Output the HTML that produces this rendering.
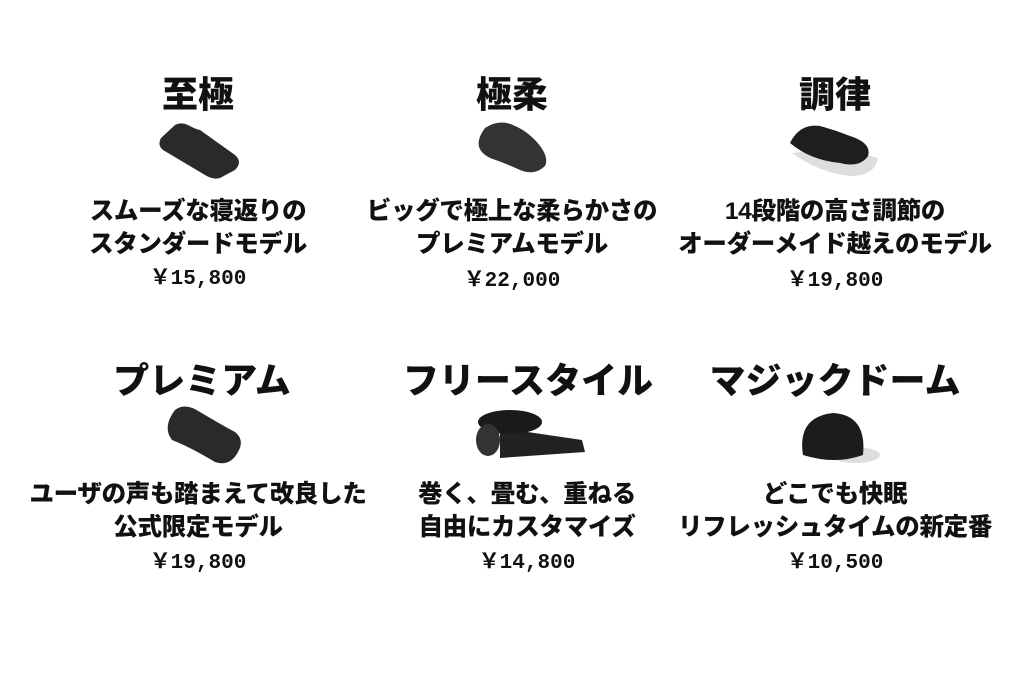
<!DOCTYPE html>
<html><head><meta charset="utf-8"><style>
body{margin:0;width:1024px;height:683px;background:#fff;position:relative;overflow:hidden;font-family:"Liberation Sans","Noto Sans CJK JP",sans-serif;font-weight:bold;color:#111}
.t{position:absolute;width:400px;text-align:center;white-space:nowrap}
.h{font-size:36px;line-height:40px;font-weight:900}
.d{font-size:24.5px;line-height:33px;font-weight:900;letter-spacing:-0.3px}
.p{font-size:21px;line-height:26px;font-family:"Liberation Mono","Noto Sans CJK JP",monospace}
svg{position:absolute}
</style></head><body>
<div class="t h" style="left:-2px;top:75px">至極</div>
<div class="t h" style="left:312px;top:75px">極柔</div>
<div class="t h" style="left:635px;top:75px">調律</div>
<svg style="left:155px;top:120px" width="90" height="60"><path d="M20 5 C30 0 35 8 45 10 L80 35 Q88 42 80 50 L65 58 Q58 60 50 55 L8 30 Q2 25 6 18 Z" fill="#2a2a2a"/></svg>
<svg style="left:470px;top:118px" width="90" height="60"><path d="M15 10 Q30 0 45 8 Q55 12 65 22 Q80 38 75 48 Q65 58 50 52 Q35 45 20 40 Q0 30 15 10 Z" fill="#333"/></svg>
<svg style="left:780px;top:118px" width="110" height="60"><path d="M12 35 Q40 55 70 58 Q95 58 98 40 L60 30 Z" fill="#ddd"/><path d="M10 25 Q20 5 40 8 Q55 12 70 18 Q92 25 88 38 Q80 50 60 45 Q30 42 10 25 Z" fill="#1e1e1e"/></svg>
<div class="t d" style="left:-2px;top:195px">スムーズな寝返りの<br>スタンダードモデル</div>
<div class="t d" style="left:312px;top:195px">ビッグで極上な柔らかさの<br>プレミアムモデル</div>
<div class="t d" style="left:635px;top:195px">14段階の高さ調節の<br>オーダーメイド越えのモデル</div>
<div class="t p" style="left:-2px;top:267px">￥15,800</div>
<div class="t p" style="left:312px;top:269px">￥22,000</div>
<div class="t p" style="left:635px;top:269px">￥19,800</div>

<div class="t h" style="left:2px;top:361px">プレミアム</div>
<div class="t h" style="left:328px;top:361px">フリースタイル</div>
<div class="t h" style="left:635px;top:361px">マジックドーム</div>
<svg style="left:160px;top:402px" width="90" height="70"><path d="M15 8 Q25 0 40 10 Q60 22 75 30 Q85 38 78 50 Q70 65 55 60 Q30 45 12 38 Q2 25 15 8 Z" fill="#2a2a2a"/></svg>
<svg style="left:470px;top:410px" width="120" height="50"><path d="M30 18 L112 30 L115 42 L30 48 Z" fill="#222"/><ellipse cx="40" cy="12" rx="32" ry="12" fill="#1a1a1a"/><ellipse cx="18" cy="30" rx="12" ry="16" fill="#333"/></svg>
<svg style="left:795px;top:405px" width="90" height="60"><ellipse cx="60" cy="50" rx="25" ry="8" fill="#ddd"/><path d="M8 50 Q2 12 38 8 Q72 10 68 50 Q40 60 8 50 Z" fill="#1c1c1c"/></svg>
<div class="t d" style="left:-2px;top:478px">ユーザの声も踏まえて改良した<br>公式限定モデル</div>
<div class="t d" style="left:327px;top:478px">巻く、畳む、重ねる<br>自由にカスタマイズ</div>
<div class="t d" style="left:635px;top:478px">どこでも快眠<br>リフレッシュタイムの新定番</div>
<div class="t p" style="left:-2px;top:551px">￥19,800</div>
<div class="t p" style="left:327px;top:551px">￥14,800</div>
<div class="t p" style="left:635px;top:551px">￥10,500</div>
</body></html>
